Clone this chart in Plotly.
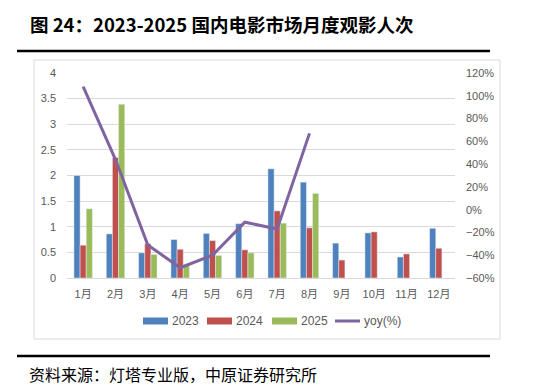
import plotly.graph_objects as go

months = ["1月", "2月", "3月", "4月", "5月", "6月", "7月", "8月", "9月", "10月", "11月", "12月"]
v2023 = [2.00, 0.86, 0.49, 0.75, 0.87, 1.06, 2.13, 1.87, 0.68, 0.88, 0.41, 0.97]
v2024 = [0.64, 2.35, 0.67, 0.56, 0.73, 0.55, 1.31, 0.98, 0.35, 0.90, 0.47, 0.58]
v2025 = [1.35, 3.39, 0.46, 0.26, 0.44, 0.49, 1.07, 1.65, None, None, None, None]
yoy = [108, 44, -31, -51, -40, -11, -17, 67]

title_text = "图 24：2023-2025 国内电影市场月度观影人次"
source_text = "资料来源：灯塔专业版，中原证券研究所"

W, H = 552, 388
OFF = 8  # page body margin offset
L, R, T, B = 67 - OFF, 455 - OFF, 73 - OFF, 278 - OFF


def px(x):
    return (x - OFF - L) / (R - L)


def py(y):
    return (B - (y - OFF)) / (B - T)


C23, C24, C25, CYOY = "#4F81BD", "#C0504D", "#9BBB59", "#8064A2"
FONT = "Liberation Sans, Noto Sans CJK SC"
GRAY = "#595959"

fig = go.Figure()
fig.add_trace(go.Bar(x=months, y=v2023, name="2023", marker_color=C23))
fig.add_trace(go.Bar(x=months, y=v2024, name="2024", marker_color=C24))
fig.add_trace(go.Bar(x=months, y=v2025, name="2025", marker_color=C25))
fig.add_trace(go.Scatter(x=months[:len(yoy)], y=yoy, name="yoy(%)", yaxis="y2",
                         mode="lines", line=dict(color=CYOY, width=3)))

shapes = []
annotations = []

# frame
shapes.append(dict(type="rect", xref="paper", yref="paper",
                   x0=px(34), x1=px(500), y0=py(339), y1=py(60),
                   line=dict(color="#D9D9D9", width=1), fillcolor="rgba(0,0,0,0)", layer="below"))
# decorative lines
shapes.append(dict(type="line", xref="paper", yref="paper", x0=px(5), x1=px(560),
                   y0=py(6), y1=py(6), line=dict(color="#A50000", width=2)))
shapes.append(dict(type="line", xref="paper", yref="paper", x0=px(17), x1=px(490),
                   y0=py(51), y1=py(51), line=dict(color="#000000", width=2.5)))
shapes.append(dict(type="line", xref="paper", yref="paper", x0=px(17), x1=px(490),
                   y0=py(356), y1=py(356), line=dict(color="#000000", width=2.5)))

annotations.append(dict(text="<b>" + title_text + "</b>", xref="paper", yref="paper",
                        x=px(28), y=py(24), xanchor="left", yanchor="middle", showarrow=False,
                        font=dict(family="Noto Sans CJK SC", size=18.5, color="#000000")))
annotations.append(dict(text=source_text, xref="paper", yref="paper",
                        x=px(27), y=py(374), xanchor="left", yanchor="middle", showarrow=False,
                        font=dict(family="Noto Sans CJK SC", size=16, color="#000000")))

# custom legend
leg_y = 321
items = [("2023", C23, 143, "bar"), ("2024", C24, 207, "bar"), ("2025", C25, 272, "bar"),
         ("yoy(%)", CYOY, 335, "line")]
for name, col, x0, kind in items:
    if kind == "bar":
        shapes.append(dict(type="rect", xref="paper", yref="paper", x0=px(x0), x1=px(x0 + 25),
                           y0=py(leg_y + 3.5), y1=py(leg_y - 3.5), line=dict(width=0), fillcolor=col))
    else:
        shapes.append(dict(type="line", xref="paper", yref="paper", x0=px(x0), x1=px(x0 + 25),
                           y0=py(leg_y), y1=py(leg_y), line=dict(color=col, width=3)))
    annotations.append(dict(text=name, xref="paper", yref="paper", x=px(x0 + 27), y=py(leg_y),
                            xanchor="left", yanchor="middle", showarrow=False,
                            font=dict(family=FONT, size=12, color=GRAY)))

fig.update_layout(
    width=W, height=H,
    margin=dict(l=L, r=W - R, t=T, b=H - B, pad=0),
    paper_bgcolor="white", plot_bgcolor="white",
    barmode="group", bargap=0.43, bargroupgap=0,
    showlegend=False,
    font=dict(family=FONT, size=11, color=GRAY),
    xaxis=dict(type="category", showgrid=False, showline=True, linecolor="#D9D9D9",
               ticks="", tickfont=dict(size=11, color=GRAY), ticklabelstandoff=6),
    yaxis=dict(range=[0, 4], dtick=0.5, showgrid=True, gridcolor="#D9D9D9", gridwidth=1,
               zeroline=False, showline=False, ticks="", tickfont=dict(size=11, color=GRAY),
               ticklabelstandoff=10),
    yaxis2=dict(range=[-60, 120], dtick=20, overlaying="y", side="right", showgrid=False,
                zeroline=False, showline=False, ticksuffix="%", ticks="",
                tickfont=dict(size=11, color=GRAY), ticklabelstandoff=10),
    shapes=shapes, annotations=annotations,
)

fig.write_html("out.html")
